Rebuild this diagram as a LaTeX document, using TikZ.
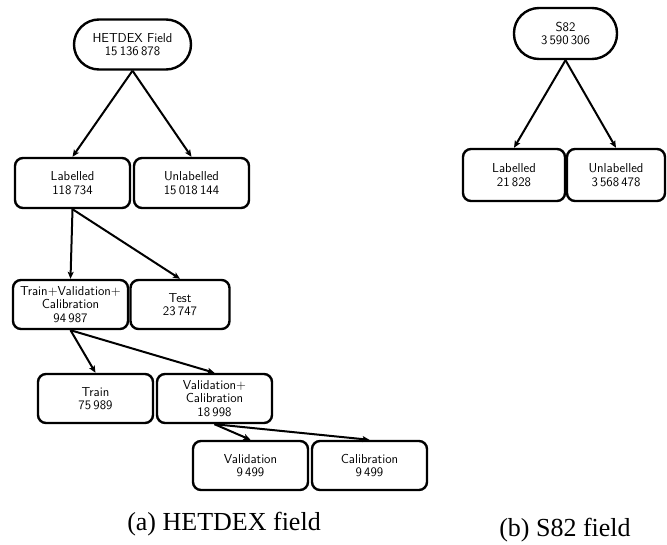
\documentclass[tikz,border=0pt]{standalone}
\usepackage{fontspec}
\newfontfamily\capfont{Liberation Serif}
\usetikzlibrary{arrows.meta}
\begin{document}
\begin{tikzpicture}[x=1pt,y=-1pt,
  txt/.style={font=\fontsize{13}{13.5}\selectfont\sffamily, align=center, inner sep=0pt},
  box/.style={txt, draw, line width=2.4pt, rounded corners=8pt, minimum width=115pt, minimum height=50pt},
  pill/.style={txt, draw, line width=2.4pt, rounded corners=25pt},
  arr/.style={line width=2pt, -{Stealth[length=7pt,width=6pt,inset=1.5pt]}},
  captext/.style={font=\capfont\fontsize{26}{30}\selectfont, inner sep=0pt, anchor=base}]
\path[use as bounding box] (0,0) rectangle (667,544);
% HETDEX tree
\node[pill, minimum width=117pt, minimum height=50pt] (het) at (132.5,44.5) {HETDEX Field\\15\,136\,878};
\node[box] (lab) at (72.5,183) {Labelled\\118\,734};
\node[box] (unl) at (191.5,183) {Unlabelled\\15\,018\,144};
\node[box, minimum height=49pt] (tvc) at (70.5,304.5) {Train+Validation+\\Calibration\\94\,987};
\node[box, minimum width=99pt, minimum height=49pt] (test) at (180,304.5) {Test\\23\,747};
\node[box, minimum height=49pt] (train) at (95.5,398.5) {Train\\75\,989};
\node[box, minimum height=49pt] (vc) at (214.5,398.5) {Validation+\\Calibration\\18\,998};
\node[box, minimum height=49pt] (val) at (250.5,465.5) {Validation\\9\,499};
\node[box, minimum height=49pt] (cal) at (369.5,465.5) {Calibration\\9\,499};
\draw[arr] (het.south) -- (lab.north);
\draw[arr] (het.south) -- (unl.north);
\draw[arr] (lab.south) -- (tvc.north);
\draw[arr] (lab.south) -- (test.north);
\draw[arr] (tvc.south) -- (train.north);
\draw[arr] (tvc.south) -- (vc.north);
\draw[arr] (vc.south) -- (val.north);
\draw[arr] (vc.south) -- (cal.north);
% S82 tree
\node[pill, minimum width=103pt, minimum height=51pt] (s82) at (565.5,33.5) {S82\\3\,590\,306};
\node[box, minimum width=102pt, minimum height=52pt] (slab) at (514,175) {Labelled\\21\,828};
\node[box, minimum width=98pt, minimum height=52pt] (sunl) at (616,175) {Unlabelled\\3\,568\,478};
\draw[arr] (s82.south) -- (slab.north);
\draw[arr] (s82.south) -- (sunl.north);
% captions
\node[captext] (capa) at (224,530) {(a) HETDEX field};
\node[captext] (capb) at (565,536) {(b) S82 field};
\end{tikzpicture}
\end{document}
